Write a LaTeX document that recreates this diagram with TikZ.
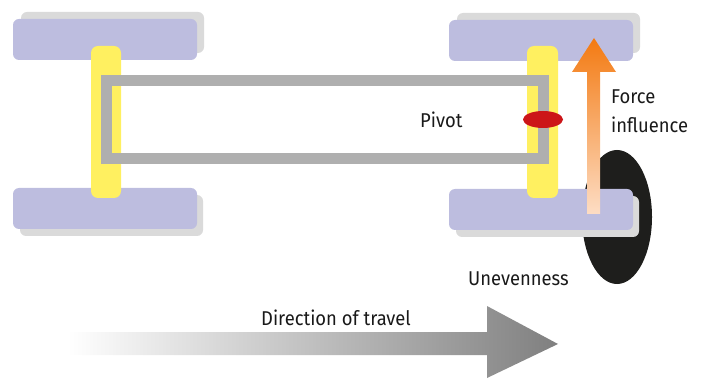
\documentclass[tikz,border=0pt]{standalone}
\usepackage{fontspec}
\setmainfont[FakeStretch=0.92]{Fira Sans}
\definecolor{tyre}{HTML}{BDBDDF}
\definecolor{shade}{HTML}{DADADA}
\definecolor{axle}{HTML}{FFF060}
\definecolor{frame}{HTML}{AFAFAF}
\definecolor{pivot}{HTML}{CC1518}
\definecolor{bump}{HTML}{1E1E1C}
\definecolor{orangetop}{HTML}{F37A12}
\definecolor{orangelow}{HTML}{FDDDC4}
\tikzset{
  tyreshape/.style={fill=tyre,rounded corners=6pt},
  shadeshape/.style={fill=shade,rounded corners=6pt},
  axleshape/.style={fill=axle,rounded corners=7pt},
  label/.style={anchor=base west,inner sep=0pt,font=\fontsize{20pt}{22pt}\selectfont,text=black!90}
}
\begin{document}
\begin{tikzpicture}[x=1pt,y=-1pt]
\useasboundingbox (0,0) rectangle (706,379);
% travel arrow
\shade[left color=white,right color=black!50]
  (68,332) -- (487,332) -- (487,306) -- (558,344) -- (487,378) -- (487,355) -- (68,355) -- cycle;
% bump
\fill[bump] (617,217) ellipse [x radius=35,y radius=67];
% shadows
\fill[shadeshape] (21,12) rectangle (204,53);
\fill[shadeshape] (20,195) rectangle (203,236);
\fill[shadeshape] (457,13) rectangle (640,53);
\fill[shadeshape] (456,196) rectangle (639,237);
% tyres
\fill[tyreshape] (13,19) rectangle (197,60);
\fill[tyreshape] (13,188) rectangle (197,229);
\fill[tyreshape] (449,20) rectangle (633,61);
\fill[tyreshape] (449,189) rectangle (633,230);
% axles
\fill[axleshape] (91,46) rectangle (121,198);
\fill[axleshape] (527,46) rectangle (558,198);
% frame
\draw[frame,line width=10.6pt,miter limit=10] (106.3,80.3) rectangle (543.7,158.7);
% pivot
\fill[pivot] (543,119.5) ellipse [x radius=20,y radius=8.5];
% force arrow
\shade[top color=orangetop,bottom color=orangelow]
  (587,214) -- (587,72) -- (572,72) -- (594,38) -- (616,72) -- (600,72) -- (600,214) -- cycle;
% labels
\node[label] (pivotlabel) at (420,127.5) {Pivot};
\node[label] (forcelabel) at (611,103.5) {Force};
\node[label] (influencelabel) at (611,132.5) {influence};
\node[label] (unevenlabel) at (468,285.5) {Unevenness};
\node[label] (travellabel) at (261,325.5) {Direction of travel};
\end{tikzpicture}
\end{document}
